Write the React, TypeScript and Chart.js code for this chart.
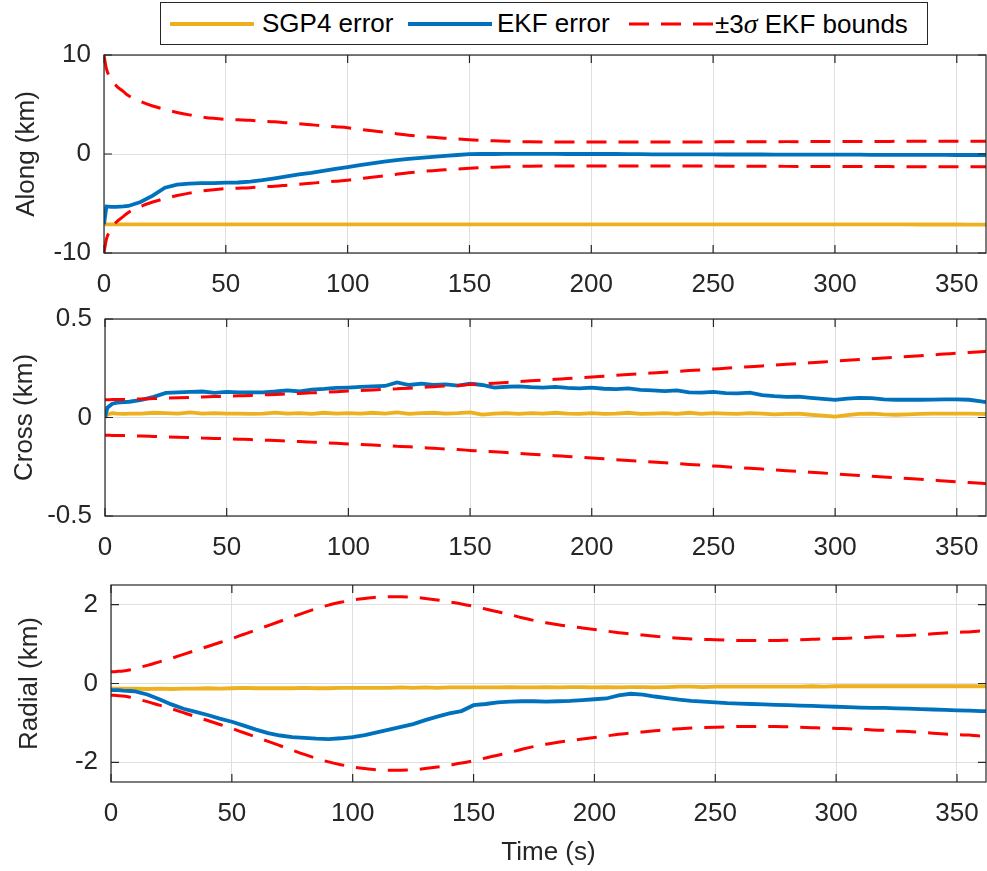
import React, { useEffect, useRef } from 'react';
import { Chart, registerables } from 'chart.js';

Chart.register(...registerables);

// ---------------- data ----------------
const TIME = [
  0, 1, 3, 5, 8,
  10, 15, 20, 25, 30, 35, 40, 45, 50, 55,
  60, 65, 70, 75, 80, 85, 90, 95, 100, 105,
  110, 115, 120, 125, 130, 135, 140, 145, 150, 155,
  160, 165, 170, 175, 180, 185, 190, 195, 200, 205,
  210, 215, 220, 225, 230, 235, 240, 245, 250, 255,
  260, 265, 270, 275, 280, 285, 290, 295, 300, 305,
  310, 315, 320, 325, 330, 335, 340, 345, 350, 355,
  360, 362,
];

const X_TICKS = [0, 50, 100, 150, 200, 250, 300, 350];

// Along-track (km)
const ALONG_SGP4 = [
  -7.1, -7.1, -7.1, -7.1, -7.1,
  -7.1, -7.1, -7.11, -7.1, -7.1, -7.1, -7.11, -7.1, -7.1, -7.1,
  -7.1, -7.1, -7.11, -7.1, -7.1, -7.1, -7.1, -7.11, -7.1, -7.1,
  -7.1, -7.1, -7.1, -7.11, -7.1, -7.1, -7.1, -7.1, -7.1, -7.1,
  -7.1, -7.1, -7.1, -7.1, -7.1, -7.1, -7.1, -7.1, -7.1, -7.1,
  -7.1, -7.1, -7.11, -7.1, -7.1, -7.1, -7.11, -7.1, -7.1, -7.1,
  -7.1, -7.11, -7.1, -7.1, -7.1, -7.11, -7.1, -7.1, -7.11, -7.1,
  -7.11, -7.11, -7.1, -7.11, -7.11, -7.12, -7.12, -7.12, -7.12, -7.13,
  -7.13, -7.13,
];
const ALONG_EKF = [
  -7.1, -5.3, -5.35, -5.35, -5.3,
  -5.25, -4.85, -4.2, -3.4, -3.1, -3.0, -2.95, -2.95, -2.9, -2.88,
  -2.8, -2.65, -2.45, -2.25, -2.05, -1.9, -1.7, -1.5, -1.32, -1.13,
  -0.95, -0.78, -0.62, -0.5, -0.4, -0.3, -0.2, -0.1, -0.02, 0.0,
  0.0, 0.02, 0.02, 0.02, 0.02, 0.02, 0.0, 0.0, 0.0, 0.0,
  0.0, -0.02, -0.02, -0.03, -0.03, -0.03, -0.04, -0.04, -0.04, -0.05,
  -0.05, -0.05, -0.05, -0.06, -0.06, -0.06, -0.06, -0.07, -0.07, -0.07,
  -0.07, -0.08, -0.08, -0.08, -0.08, -0.09, -0.09, -0.09, -0.1, -0.1,
  -0.1, -0.1,
];
const ALONG_3SIGMA = [
  10, 8.6, 7.6, 6.9, 6.3,
  5.9, 5.3, 4.85, 4.5, 4.2, 3.95, 3.75, 3.6, 3.5, 3.45,
  3.4, 3.32, 3.25, 3.15, 3.05, 2.95, 2.85, 2.75, 2.65, 2.5,
  2.35, 2.2, 2.05, 1.9, 1.78, 1.68, 1.6, 1.52, 1.45, 1.38,
  1.33, 1.29, 1.26, 1.23, 1.21, 1.2, 1.2, 1.2, 1.2, 1.2,
  1.2, 1.2, 1.2, 1.21, 1.21, 1.21, 1.22, 1.22, 1.22, 1.23,
  1.23, 1.24, 1.24, 1.24, 1.25, 1.25, 1.25, 1.26, 1.26, 1.26,
  1.27, 1.27, 1.27, 1.28, 1.28, 1.28, 1.29, 1.29, 1.3, 1.3,
  1.3, 1.3,
];

// Cross-track (km)
const CROSS_SGP4 = [
  0.0, 0.015, 0.022, 0.02, 0.018,
  0.02, 0.02, 0.024, 0.022, 0.02, 0.026, 0.02, 0.022, 0.02, 0.02,
  0.018, 0.02, 0.025, 0.02, 0.022, 0.018, 0.024, 0.02, 0.022, 0.02,
  0.024, 0.02, 0.026, 0.018, 0.022, 0.024, 0.02, 0.022, 0.026, 0.015,
  0.02, 0.022, 0.018, 0.022, 0.02, 0.024, 0.02, 0.018, 0.022, 0.018,
  0.02, 0.024, 0.018, 0.02, 0.022, 0.018, 0.024, 0.018, 0.022, 0.02,
  0.018, 0.022, 0.02, 0.016, 0.018, 0.02, 0.014, 0.01, 0.004, 0.012,
  0.018, 0.02, 0.016, 0.014, 0.016, 0.018, 0.02, 0.02, 0.02, 0.02,
  0.018, 0.017,
];
const CROSS_EKF = [
  0.0, 0.05, 0.07, 0.075, 0.078,
  0.08, 0.09, 0.105, 0.125, 0.128, 0.13, 0.132, 0.125, 0.13, 0.128,
  0.128, 0.128, 0.132, 0.138, 0.132, 0.142, 0.145, 0.15, 0.152, 0.155,
  0.158, 0.16, 0.178, 0.165, 0.172, 0.165, 0.168, 0.162, 0.172, 0.165,
  0.152, 0.156, 0.158, 0.154, 0.152, 0.155, 0.15, 0.148, 0.152, 0.146,
  0.144, 0.148, 0.14, 0.138, 0.134, 0.138, 0.128, 0.126, 0.13, 0.124,
  0.122, 0.126, 0.114, 0.108, 0.105, 0.106, 0.1, 0.095, 0.09, 0.096,
  0.1, 0.098, 0.092, 0.09, 0.09, 0.09, 0.091, 0.092, 0.092, 0.09,
  0.082, 0.078,
];
const CROSS_3SIGMA = [
  0.09, 0.09, 0.091, 0.091, 0.092,
  0.093, 0.094, 0.096, 0.098, 0.1, 0.102, 0.104, 0.106, 0.108, 0.11,
  0.112, 0.115, 0.117, 0.12, 0.122, 0.125, 0.128, 0.131, 0.134, 0.137,
  0.14, 0.143, 0.146, 0.149, 0.153, 0.156, 0.16, 0.163, 0.167, 0.171,
  0.174, 0.178, 0.182, 0.186, 0.19, 0.194, 0.198, 0.202, 0.206, 0.21,
  0.214, 0.218, 0.222, 0.226, 0.23, 0.234, 0.238, 0.242, 0.246, 0.25,
  0.254, 0.258, 0.262, 0.266, 0.27, 0.274, 0.278, 0.282, 0.286, 0.29,
  0.294, 0.298, 0.302, 0.306, 0.31, 0.314, 0.318, 0.322, 0.326, 0.33,
  0.334, 0.336,
];

// Radial (km)
const RADIAL_SGP4 = [
  -0.13, -0.13, -0.13, -0.13, -0.13,
  -0.13, -0.14, -0.13, -0.14, -0.13, -0.13, -0.12, -0.13, -0.12, -0.11,
  -0.12, -0.12, -0.12, -0.12, -0.11, -0.12, -0.12, -0.11, -0.11, -0.11,
  -0.11, -0.11, -0.1, -0.11, -0.1, -0.11, -0.1, -0.1, -0.1, -0.1,
  -0.1, -0.09, -0.1, -0.1, -0.09, -0.1, -0.09, -0.09, -0.1, -0.09,
  -0.1, -0.09, -0.09, -0.1, -0.09, -0.08, -0.08, -0.09, -0.08, -0.08,
  -0.08, -0.08, -0.08, -0.08, -0.08, -0.08, -0.07, -0.08, -0.07, -0.07,
  -0.07, -0.07, -0.07, -0.07, -0.07, -0.07, -0.07, -0.07, -0.07, -0.07,
  -0.07, -0.07,
];
const RADIAL_EKF = [
  -0.17, -0.17, -0.17, -0.18, -0.19,
  -0.2, -0.28, -0.4, -0.53, -0.64, -0.72, -0.8, -0.89, -0.97, -1.07,
  -1.17, -1.26, -1.32, -1.36, -1.38, -1.4, -1.41, -1.39, -1.36, -1.31,
  -1.24, -1.17, -1.1, -1.03, -0.93, -0.84, -0.76, -0.7, -0.55, -0.52,
  -0.48, -0.46, -0.45, -0.45, -0.46, -0.45, -0.44, -0.42, -0.4, -0.38,
  -0.3, -0.26, -0.28, -0.33, -0.37, -0.41, -0.44, -0.46, -0.48, -0.5,
  -0.51, -0.52, -0.53, -0.54, -0.55, -0.56, -0.57, -0.58, -0.59, -0.6,
  -0.61, -0.62, -0.62, -0.63, -0.64, -0.65, -0.66, -0.67, -0.68, -0.69,
  -0.7, -0.7,
];
const RADIAL_3SIGMA = [
  0.3, 0.3, 0.31, 0.32, 0.35,
  0.38, 0.46, 0.55, 0.64, 0.74, 0.84, 0.94, 1.04, 1.14, 1.25,
  1.36, 1.47, 1.58, 1.69, 1.8, 1.9, 1.99, 2.06, 2.12, 2.16,
  2.19, 2.2, 2.2, 2.19, 2.16, 2.12, 2.07, 2.02, 1.96, 1.89,
  1.82, 1.75, 1.67, 1.6, 1.54, 1.49, 1.45, 1.41, 1.37, 1.33,
  1.29, 1.26, 1.23, 1.2, 1.17, 1.15, 1.13, 1.12, 1.11, 1.1,
  1.09, 1.09, 1.09, 1.09, 1.1, 1.11, 1.12, 1.13, 1.14, 1.15,
  1.16, 1.18, 1.19, 1.21, 1.22, 1.24, 1.26, 1.28, 1.3, 1.31,
  1.33, 1.33,
];

const ALONG_TICKS = [-10, 0, 10];
const CROSS_TICKS = [-0.5, 0, 0.5];
const RADIAL_TICKS = [-2, 0, 2];

// ---------------- style ----------------
const FONT_FAMILY = '"Liberation Sans", Arial, Helvetica, sans-serif';
const FONT_SIZE = 26;
const AXIS_COLOR = '#262626';
const GRID_COLOR = '#dfdfdf';
const C_SGP4 = '#EDB120';
const C_EKF = '#0072BD';
const C_BOUND = '#FF0000';
const W = 987;
const PAD_TOP = 30;

type PanelSpec = {
  top: number;
  height: number;
  yAxisWidth: number;
  xAxisHeight: number;
  yTitle: string;
  yTitlePad: number;
  yMin: number;
  yMax: number;
  yTicks: number[];
  sgp4: number[];
  ekf: number[];
  bound: number[];
  xTitle?: string;
};

// canvas top = plot-area top - PAD_TOP ; height = PAD_TOP + plot height + x-axis height
const PANELS: PanelSpec[] = [
  {
    top: 25, height: 278, yAxisWidth: 104, xAxisHeight: 50,
    yTitle: 'Along (km)', yTitlePad: 11, yMin: -10, yMax: 10, yTicks: ALONG_TICKS,
    sgp4: ALONG_SGP4, ekf: ALONG_EKF, bound: ALONG_3SIGMA,
  },
  {
    top: 289, height: 277, yAxisWidth: 105, xAxisHeight: 50,
    yTitle: 'Cross (km)', yTitlePad: 9, yMin: -0.5, yMax: 0.5, yTicks: CROSS_TICKS,
    sgp4: CROSS_SGP4, ekf: CROSS_EKF, bound: CROSS_3SIGMA,
  },
  {
    top: 555, height: 316, yAxisWidth: 111, xAxisHeight: 89,
    yTitle: 'Radial (km)', yTitlePad: 14, yMin: -2.5, yMax: 2.5, yTicks: RADIAL_TICKS,
    sgp4: RADIAL_SGP4, ekf: RADIAL_EKF, bound: RADIAL_3SIGMA, xTitle: 'Time (s)',
  },
];

const pts = (ys: number[], sign = 1) => TIME.map((t, i) => ({ x: t, y: sign * ys[i] }));

const boxPlugin = {
  id: 'matlabBox',
  afterDatasetsDraw(chart: any) {
    const { ctx, chartArea: a, scales } = chart;
    const xs = scales.x;
    const ys = scales.y;
    const L = 8;
    ctx.save();
    ctx.strokeStyle = AXIS_COLOR;
    ctx.lineWidth = 1.2;
    ctx.beginPath();
    xs.ticks.forEach((t: any) => {
      const px = xs.getPixelForValue(t.value);
      ctx.moveTo(px, a.top);
      ctx.lineTo(px, a.top + L);
      ctx.moveTo(px, a.bottom);
      ctx.lineTo(px, a.bottom - L);
    });
    ys.ticks.forEach((t: any) => {
      const py = ys.getPixelForValue(t.value);
      ctx.moveTo(a.left, py);
      ctx.lineTo(a.left + L, py);
      ctx.moveTo(a.right, py);
      ctx.lineTo(a.right - L, py);
    });
    ctx.stroke();
    ctx.strokeRect(a.left, a.top, a.right - a.left, a.bottom - a.top);
    ctx.restore();
  },
};

function makeConfig(p: PanelSpec): any {
  const font = { family: FONT_FAMILY, size: FONT_SIZE };
  return {
    type: 'line',
    data: {
      datasets: [
        {
          label: '±3σ EKF bounds', data: pts(p.bound), borderColor: C_BOUND, borderWidth: 3,
          borderDash: [20, 12], pointRadius: 0, cubicInterpolationMode: 'monotone', fill: false,
        },
        {
          label: '-3σ', data: pts(p.bound, -1), borderColor: C_BOUND, borderWidth: 3,
          borderDash: [20, 12], pointRadius: 0, cubicInterpolationMode: 'monotone', fill: false,
        },
        {
          label: 'EKF error', data: pts(p.ekf), borderColor: C_EKF, borderWidth: 3.8,
          pointRadius: 0, tension: 0, fill: false,
        },
        {
          label: 'SGP4 error', data: pts(p.sgp4), borderColor: C_SGP4, borderWidth: 3.8,
          pointRadius: 0, tension: 0, fill: false,
        },
      ],
    },
    options: {
      animation: false,
      responsive: false,
      maintainAspectRatio: false,
      layout: { padding: { top: PAD_TOP, right: 1, left: 0, bottom: 0 } },
      plugins: { legend: { display: false }, tooltip: { enabled: false } },
      scales: {
        x: {
          type: 'linear',
          min: 0,
          max: 362,
          afterBuildTicks: (s: any) => { s.ticks = X_TICKS.map((v) => ({ value: v })); },
          afterFit: (s: any) => { s.height = p.xAxisHeight; },
          ticks: {
            font, color: AXIS_COLOR, padding: 0, maxRotation: 0, autoSkip: false,
            callback: (v: any) => String(v),
          },
          grid: {
            color: GRID_COLOR, lineWidth: 1, drawTicks: true, tickLength: 16,
            tickColor: 'rgba(0,0,0,0)',
          },
          border: { display: false },
          title: p.xTitle
            ? { display: true, text: p.xTitle, font, color: AXIS_COLOR, padding: { top: 0, bottom: 3 } }
            : { display: false },
        },
        y: {
          type: 'linear',
          min: p.yMin,
          max: p.yMax,
          afterBuildTicks: (s: any) => { s.ticks = p.yTicks.map((v) => ({ value: v })); },
          afterFit: (s: any) => { s.width = p.yAxisWidth; },
          ticks: {
            font, color: AXIS_COLOR, padding: 13, autoSkip: false,
            callback: (v: any) => String(v),
          },
          grid: { color: GRID_COLOR, lineWidth: 1, drawTicks: false },
          border: { display: false },
          title: { display: true, text: p.yTitle, font, color: AXIS_COLOR, padding: { top: p.yTitlePad, bottom: 0 } },
        },
      },
    },
    plugins: [boxPlugin],
  };
}

function Panel({ spec }: { spec: PanelSpec }) {
  const ref = useRef<HTMLCanvasElement | null>(null);
  useEffect(() => {
    if (!ref.current) return;
    const chart = new Chart(ref.current, makeConfig(spec));
    return () => chart.destroy();
  }, [spec]);
  return (
    <canvas
      ref={ref}
      width={W}
      height={spec.height}
      style={{ position: 'absolute', left: 0, top: spec.top, width: W, height: spec.height }}
    />
  );
}

function LegendLine({ left, color, dashed }: { left: number; color: string; dashed?: boolean }) {
  return (
    <svg width={84} height={6} style={{ position: 'absolute', left, top: 18 }}>
      <line
        x1={0} y1={3} x2={84} y2={3}
        stroke={color}
        strokeWidth={dashed ? 3 : 3.8}
        strokeDasharray={dashed ? '20 12' : undefined}
      />
    </svg>
  );
}

const legendText: React.CSSProperties = {
  position: 'absolute',
  top: 0,
  lineHeight: '41px',
  fontFamily: FONT_FAMILY,
  fontSize: FONT_SIZE,
  color: '#000',
  whiteSpace: 'nowrap',
};

export default function App() {
  return (
    <div
      style={{
        position: 'absolute', left: 0, top: 0, width: W, height: 871,
        background: '#ffffff', overflow: 'hidden',
      }}
    >
      {PANELS.map((p, i) => (
        <Panel key={i} spec={p} />
      ))}
      <div
        style={{
          position: 'absolute', left: 160, top: 2, width: 766, height: 41,
          border: `1px solid ${AXIS_COLOR}`, background: '#fff',
        }}
      >
        <LegendLine left={9} color={C_SGP4} />
        <span style={{ ...legendText, left: 101 }}>SGP4 error</span>
        <LegendLine left={247} color={C_EKF} />
        <span style={{ ...legendText, left: 336 }}>EKF error</span>
        <LegendLine left={468} color={C_BOUND} dashed />
        <span style={{ ...legendText, left: 554 }}>
          ±3<span style={{ fontFamily: '"Liberation Serif", "DejaVu Serif", serif', fontStyle: 'italic', fontSize: 28 }}>σ</span> EKF bounds
        </span>
      </div>
    </div>
  );
}
